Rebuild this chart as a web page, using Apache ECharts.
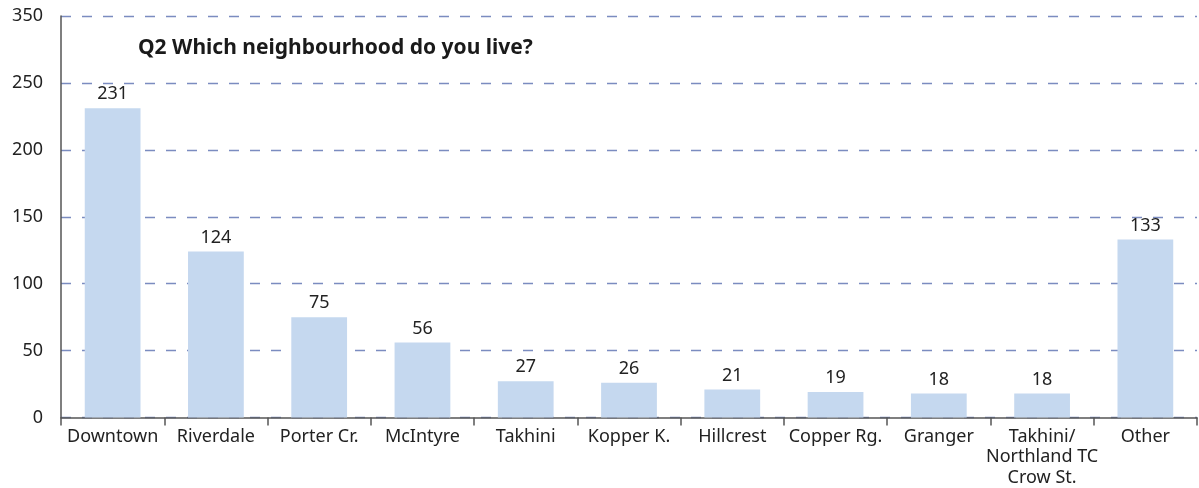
<!DOCTYPE html>
<html><head><meta charset="utf-8">
<script src="https://cdn.jsdelivr.net/npm/echarts@6/dist/echarts.min.js"></script>
<style>html,body{margin:0;padding:0;background:#fff}#c{width:1199px;height:488px}</style>
</head><body><div id="c"></div>
<script>
const categories = ["Downtown","Riverdale","Porter Cr.","McIntyre","Takhini","Kopper K.","Hillcrest","Copper Rg.","Granger","Takhini/\nNorthland TC\nCrow St.","Other"];
const values = [231,124,75,56,27,26,21,19,18,18,133];
const yTickLabels = ["0","50","100","150","200","250","350"];
const title = "Q2 Which neighbourhood do you live?";
const FONT = "Noto Sans";
const chart = echarts.init(document.getElementById('c'));
chart.setOption({
  animation:false,
  title:{text:title,left:133,top:33,textStyle:{fontFamily:FONT,fontSize:21,fontWeight:'bold',color:'#1a1a1a'}},
  grid:{left:61,right:2,top:16,bottom:70,containLabel:false},
  xAxis:{type:'category',data:categories,
    axisLine:{lineStyle:{color:'#555',width:1.5}},
    axisTick:{show:true,length:8,lineStyle:{color:'#555',width:1.5}},
    axisLabel:{fontFamily:FONT,fontSize:18,color:'#222',margin:9,lineHeight:20.5,interval:0}},
  yAxis:{type:'value',min:0,max:300,interval:50,
    axisLine:{show:true,lineStyle:{color:'#555',width:1.5}},
    axisTick:{show:false},
    splitLine:{lineStyle:{color:'#7b8cc0',type:[10,11],width:1.3}},
    axisLabel:{fontFamily:FONT,fontSize:18,color:'#222',margin:18,
      formatter:(v)=>yTickLabels[Math.round(v/50)]}},
  series:[{type:'bar',data:values,barWidth:'54%',
    itemStyle:{color:'#c5d8ef'},
    label:{show:true,position:'top',distance:5,fontFamily:FONT,fontSize:18,color:'#222'}}]
});
</script></body></html>
